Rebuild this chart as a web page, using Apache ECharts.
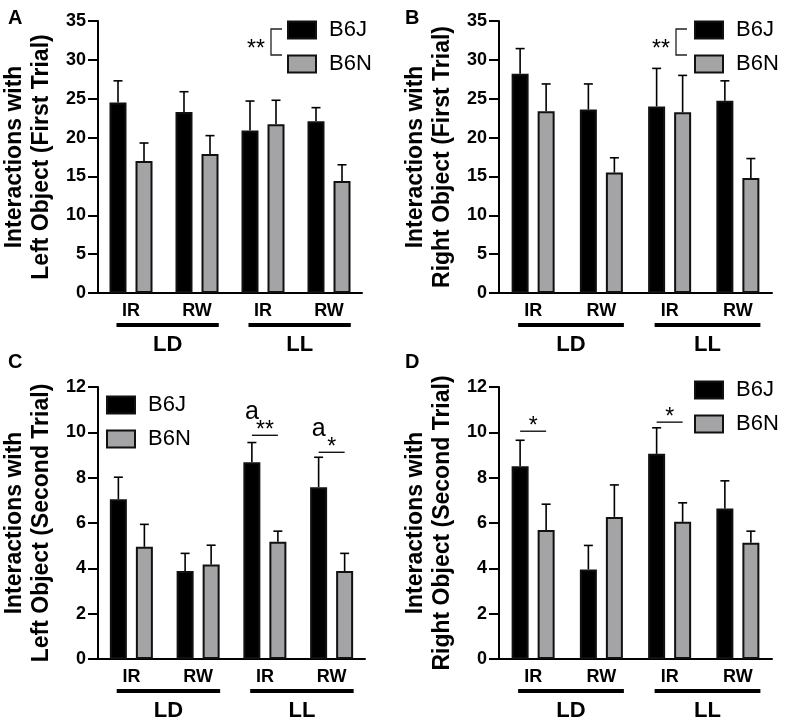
<!DOCTYPE html>
<html>
<head>
<meta charset="utf-8">
<script src="https://cdn.jsdelivr.net/npm/echarts@6/dist/echarts.min.js"></script>
<style>
  html, body { margin: 0; padding: 0; background: #fff; }
  #chart { width: 797px; height: 723px; }
</style>
</head>
<body>
<div id="chart"></div>
<script>
  // categories
  var conditions = ['IR', 'RW', 'IR', 'RW'];
  var groupNames = ['LD', 'LL'];
  var groupSpans = [[0, 1], [2, 3]];
  var strains = ['B6J', 'B6N'];

  // A - left object, first trial
  var leftFirstJ = [24.5, 23.3, 20.9, 22.1];
  var leftFirstJErr = [2.8, 2.6, 3.8, 1.75];
  var leftFirstN = [17.0, 17.9, 21.7, 14.4];
  var leftFirstNErr = [2.3, 2.35, 3.1, 2.1];

  // B - right object, first trial
  var rightFirstJ = [28.2, 23.6, 24.0, 24.75];
  var rightFirstJErr = [3.25, 3.3, 4.9, 2.55];
  var rightFirstN = [23.4, 15.5, 23.25, 14.8];
  var rightFirstNErr = [3.5, 1.9, 4.75, 2.5];

  // C - left object, second trial
  var leftSecondJ = [7.05, 3.88, 8.68, 7.58];
  var leftSecondJErr = [0.97, 0.78, 0.87, 1.32];
  var leftSecondN = [4.95, 4.17, 5.17, 3.88];
  var leftSecondNErr = [0.99, 0.85, 0.47, 0.78];

  // D - right object, second trial
  var rightSecondJ = [8.5, 3.95, 9.05, 6.64];
  var rightSecondJErr = [1.15, 1.06, 1.15, 1.22];
  var rightSecondN = [5.69, 6.27, 6.05, 5.13];
  var rightSecondNErr = [1.14, 1.41, 0.84, 0.51];

  // significance marks: [category, line height]
  var sigC = [[2, 9.87], [3, 9.12]];
  var sigCStars = ['**', '*'];
  var sigCLetters = ['a', 'a'];
  var sigD = [[0, 10.05], [2, 10.45]];
  var sigDStars = ['*', '*'];
  var sigDLetters = ['', ''];

  var FONT = 'Liberation Sans, Arial, sans-serif';
  var BAR_W = 17;
  var BAR_GAP = 0.53;
  var OFF = (BAR_W + BAR_W * BAR_GAP) / 2;
  var CAP = 4.5;
  var GREY = '#a4a4a7';

  var panels = [
    {letter: 'A', grid: {left: 95, top: 21, width: 267, height: 272}, max: 35, step: 5,
      title: 'Interactions with\nLeft Object (First Trial)',
      j: leftFirstJ, jErr: leftFirstJErr, n: leftFirstN, nErr: leftFirstNErr,
      legend: {left: 287, top: 19}},
    {letter: 'B', grid: {left: 499, top: 21, width: 273, height: 272}, max: 35, step: 5,
      title: 'Interactions with\nRight Object (First Trial)',
      j: rightFirstJ, jErr: rightFirstJErr, n: rightFirstN, nErr: rightFirstNErr,
      legend: {left: 694, top: 19}},
    {letter: 'C', grid: {left: 95, top: 387, width: 270, height: 272}, max: 12, step: 2,
      title: 'Interactions with\nLeft Object (Second Trial)',
      j: leftSecondJ, jErr: leftSecondJErr, n: leftSecondN, nErr: leftSecondNErr,
      sig: sigC, stars: sigCStars, letters: sigCLetters,
      legend: {left: 106, top: 394}},
    {letter: 'D', grid: {left: 499, top: 387, width: 273, height: 272}, max: 12, step: 2,
      title: 'Interactions with\nRight Object (Second Trial)',
      j: rightSecondJ, jErr: rightSecondJErr, n: rightSecondN, nErr: rightSecondNErr,
      sig: sigD, stars: sigDStars, letters: sigDLetters,
      legend: {left: 694, top: 379}}
  ];

  function errRender(side) {
    return function (params, api) {
      var i = api.value(0);
      var top = api.coord([i, api.value(1)]);
      var end = api.coord([i, api.value(1) + api.value(2)]);
      var x = top[0] + side * OFF;
      return {
        type: 'group',
        children: [
          {type: 'line', shape: {x1: x, y1: top[1], x2: x, y2: end[1]},
            style: {stroke: '#000', lineWidth: 1.6}},
          {type: 'line', shape: {x1: x - CAP, y1: end[1], x2: x + CAP, y2: end[1]},
            style: {stroke: '#000', lineWidth: 1.6}}
        ]
      };
    };
  }

  function groupRender(params, api) {
    var band = api.size([1, 0])[0];
    var a = api.coord([api.value(0), 0]);
    var b = api.coord([api.value(1), 0]);
    var x1 = a[0] - 0.22 * band;
    var x2 = b[0] + 0.33 * band;
    return {
      type: 'group',
      children: [
        {type: 'line', shape: {x1: x1, y1: a[1] + 32, x2: x2, y2: a[1] + 32},
          style: {stroke: '#000', lineWidth: 4}},
        {type: 'text', x: (x1 + x2) / 2, y: a[1] + 52,
          style: {text: groupNames[params.dataIndex], fill: '#000', font: 'bold 22px ' + FONT,
            textAlign: 'center', textVerticalAlign: 'middle'}}
      ]
    };
  }

  function sigRender(stars, letters) {
    return function (params, api) {
      var p = api.coord([api.value(0), api.value(1)]);
      var xl = p[0] - OFF, xr = p[0] + OFF;
      var kids = [
        {type: 'line', shape: {x1: xl, y1: p[1], x2: xr, y2: p[1]},
          style: {stroke: '#000', lineWidth: 1.3}},
        {type: 'text', x: p[0], y: p[1] + 7,
          style: {text: stars[params.dataIndex], fill: '#000', font: '23px ' + FONT,
            textAlign: 'center', textVerticalAlign: 'bottom'}}
      ];
      if (letters[params.dataIndex]) {
        kids.push({type: 'text', x: xl, y: p[1] - 11,
          style: {text: letters[params.dataIndex], fill: '#000', font: '25px ' + FONT,
            textAlign: 'center', textVerticalAlign: 'bottom'}});
      }
      return {type: 'group', children: kids};
    };
  }

  var grids = [], xAxes = [], yAxes = [], series = [], legends = [], graphics = [];

  panels.forEach(function (p, k) {
    grids.push(p.grid);
    xAxes.push({
      type: 'category', gridIndex: k, data: conditions,
      axisLine: {lineStyle: {color: '#000', width: 2}},
      axisTick: {alignWithLabel: true, length: 5, lineStyle: {color: '#000', width: 2}},
      axisLabel: {color: '#000', fontSize: 18, fontWeight: 'bold', fontFamily: FONT, margin: 9}
    });
    yAxes.push({
      type: 'value', gridIndex: k, min: 0, max: p.max, interval: p.step,
      name: p.title, nameLocation: 'middle', nameGap: 43,
      nameTextStyle: {color: '#000', fontSize: 23, fontWeight: 'bold', fontFamily: FONT, lineHeight: 27},
      axisLine: {show: true, lineStyle: {color: '#000', width: 2}},
      axisTick: {show: true, length: 10, lineStyle: {color: '#000', width: 2}},
      axisLabel: {color: '#000', fontSize: 18, fontWeight: 'bold', fontFamily: FONT, margin: 12},
      splitLine: {show: false}
    });

    series.push({
      name: strains[0], type: 'bar', xAxisIndex: k, yAxisIndex: k,
      data: p.j, barWidth: BAR_W, barGap: (BAR_GAP * 100) + '%',
      itemStyle: {color: '#000', borderColor: '#111', borderWidth: 2}
    });
    series.push({
      name: strains[1], type: 'bar', xAxisIndex: k, yAxisIndex: k,
      data: p.n, barWidth: BAR_W,
      itemStyle: {color: GREY, borderColor: '#111', borderWidth: 2}
    });
    series.push({
      type: 'custom', xAxisIndex: k, yAxisIndex: k, z: 1,
      renderItem: errRender(-1), encode: {x: 0, y: 1},
      data: p.j.map(function (v, i) { return [i, v, p.jErr[i]]; })
    });
    series.push({
      type: 'custom', xAxisIndex: k, yAxisIndex: k, z: 1,
      renderItem: errRender(1), encode: {x: 0, y: 1},
      data: p.n.map(function (v, i) { return [i, v, p.nErr[i]]; })
    });
    series.push({
      type: 'custom', xAxisIndex: k, yAxisIndex: k, clip: false,
      renderItem: groupRender, encode: {x: [0, 1]},
      data: groupSpans
    });
    if (p.sig) {
      series.push({
        type: 'custom', xAxisIndex: k, yAxisIndex: k, clip: false,
        renderItem: sigRender(p.stars, p.letters), encode: {x: 0, y: 1},
        data: p.sig
      });
    }

    legends.push({
      left: p.legend.left, top: p.legend.top, orient: 'vertical', padding: 0,
      itemWidth: 28, itemHeight: 17, itemGap: 12, icon: 'rect',
      selectedMode: false,
      textStyle: {color: '#000', fontSize: 22, fontFamily: FONT, padding: [0, 0, 0, 8]},
      data: [
        {name: strains[0], itemStyle: {borderColor: '#111', borderWidth: 2}},
        {name: strains[1], itemStyle: {borderColor: '#111', borderWidth: 2}}
      ]
    });

    graphics.push({
      type: 'text', left: (k % 2 === 0 ? 8 : 405), top: (k < 2 ? 8 : 352),
      style: {text: p.letter, fill: '#000', font: 'bold 20px ' + FONT}
    });
  });

  // between-strain brackets in A and B
  [271, 676].forEach(function (bx) {
    graphics.push({
      type: 'polyline',
      shape: {points: [[bx + 11, 29], [bx, 29], [bx, 55], [bx + 11, 55]]},
      style: {stroke: '#222', lineWidth: 1.3, fill: null}
    });
    graphics.push({
      type: 'text', x: bx - 15, y: 50,
      style: {text: '**', fill: '#000', font: '23px ' + FONT, textAlign: 'center', textVerticalAlign: 'middle'}
    });
  });

  var myChart = echarts.init(document.getElementById('chart'));
  var option = {
    animation: false,
    backgroundColor: '#fff',
    textStyle: {fontFamily: FONT},
    grid: grids,
    xAxis: xAxes,
    yAxis: yAxes,
    legend: legends,
    graphic: graphics,
    series: series
  };
  myChart.setOption(option);
</script>
</body>
</html>
